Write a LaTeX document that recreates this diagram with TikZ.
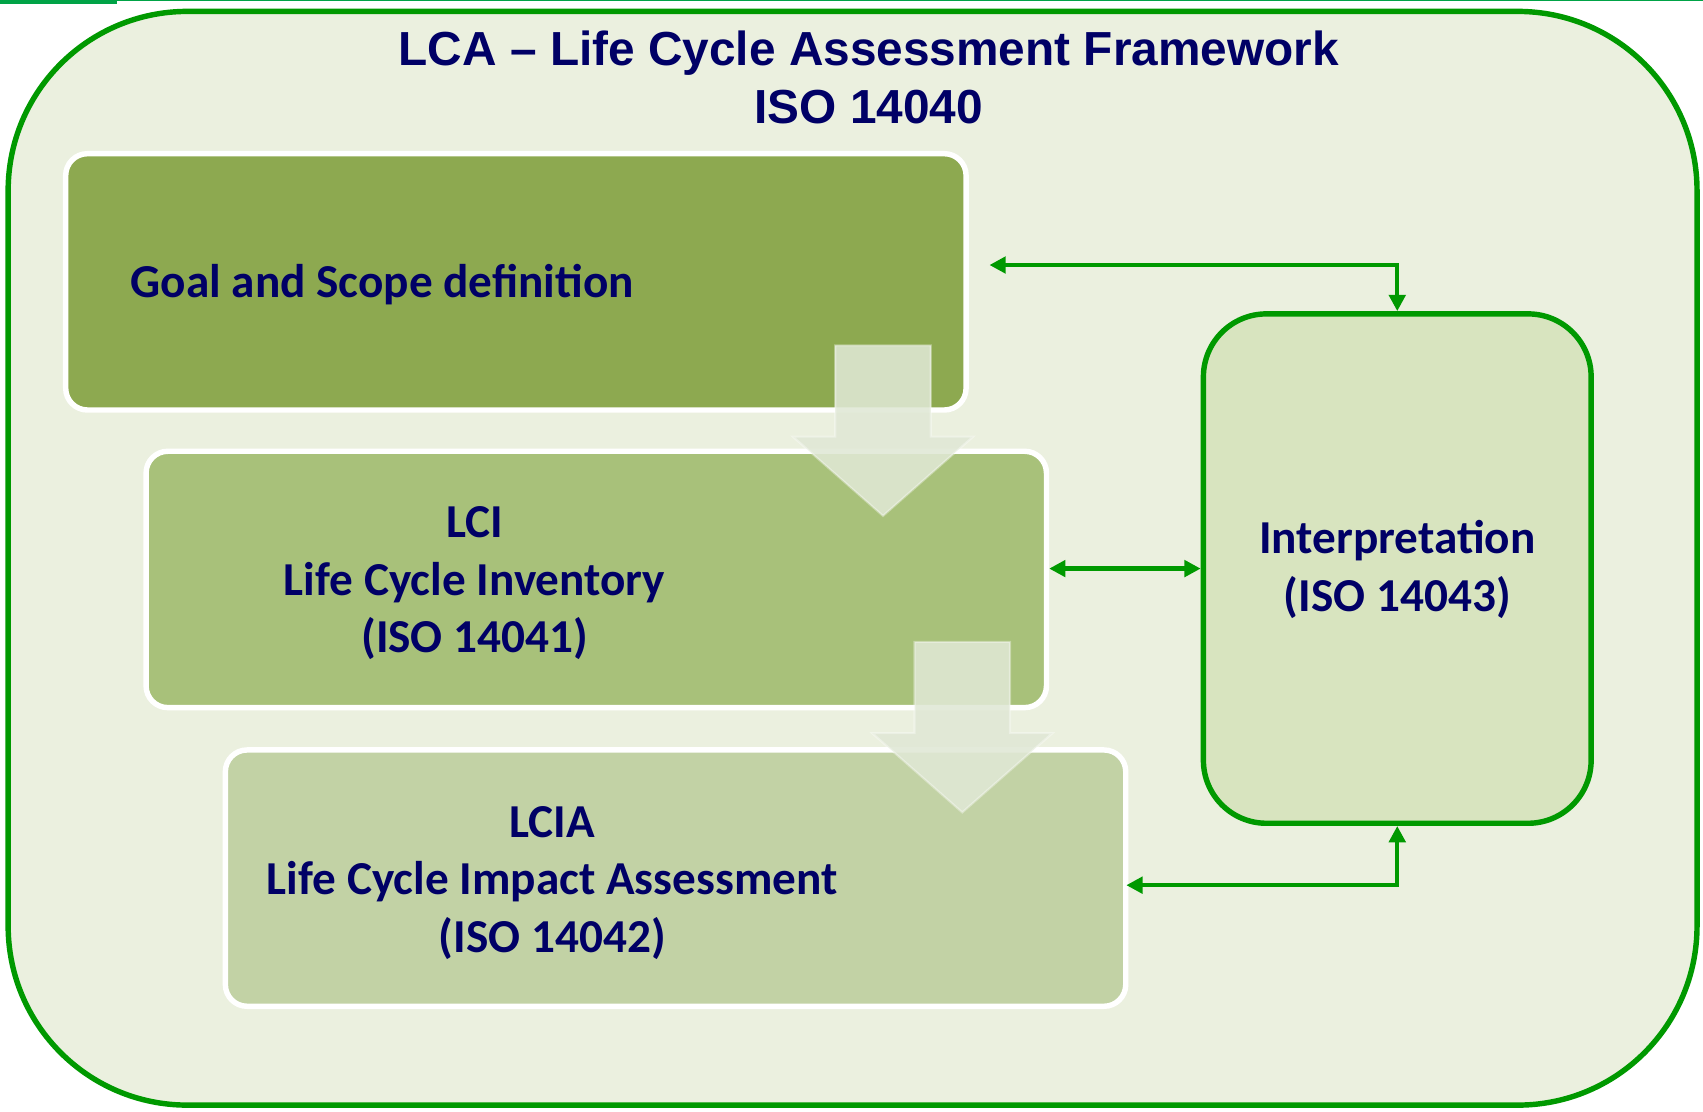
\documentclass[tikz,border=0pt]{standalone}
\usepackage{fontspec}
\usetikzlibrary{arrows.meta,calc}
\newfontfamily\titlefont{Liberation Sans}
\newfontfamily\boxfont{Carlito}
\definecolor{navy}{RGB}{0,0,102}
\definecolor{framegreen}{RGB}{0,153,0}
\definecolor{framefill}{RGB}{235,240,223}
\definecolor{topgreen}{RGB}{0,163,70}
\definecolor{goalfill}{RGB}{141,169,80}
\definecolor{lcifill}{RGB}{168,193,122}
\definecolor{lciafill}{RGB}{194,210,165}
\definecolor{interpfill}{RGB}{216,228,191}
\definecolor{blockfill}{RGB}{224,232,213}
\tikzset{
  stage/.style={rectangle, rounded corners=20pt, draw=white, line width=5pt,
    minimum width=829pt, minimum height=236pt, inner sep=0pt},
  lbl/.style={text=navy, font=\boxfont\bfseries\fontsize{43.5}{53}\selectfont,
    align=center, inner sep=0pt, anchor=base},
  ttl/.style={text=navy, font=\titlefont\bfseries\fontsize{44}{54}\selectfont,
    align=center, inner sep=0pt, anchor=base},
  conn/.style={draw=framegreen, line width=4pt,
    {Triangle[length=15pt,width=15pt]}-{Triangle[length=15pt,width=15pt]}},
  blockarr/.style={fill=blockfill, fill opacity=0.88, draw=white, draw opacity=0.35, line width=2pt},
  downarr/.pic={\path[blockarr] (-44,0) -- (44,0) -- (44,84) -- (83,84) -- (0,157) -- (-83,84) -- (-44,84) -- cycle;}
}
\begin{document}
\begin{tikzpicture}[x=1pt,y=-1pt]
\useasboundingbox (0,0) rectangle (1568,1023);
% top decorative line
\fill[topgreen] (0,0) rectangle (1568,1.3);
\fill[topgreen] (0,0) rectangle (108,3.5);
% outer frame
\draw[framegreen, fill=framefill, line width=5pt, rounded corners=165pt]
  (7.5,10.5) rectangle (1562.5,1017.5);
% title (anchor base = last line)
\node[ttl] (title) at (800,114) {LCA – Life Cycle Assessment Framework\\ISO 14040};
% stages
\node[stage, fill=goalfill] (goal) at (475,259.5) {};
\node[stage, fill=lcifill] (lci) at (549,533.5) {};
\node[stage, fill=lciafill] (lcia) at (622,808.5) {};
\node[rectangle, rounded corners=58pt, draw=framegreen, fill=interpfill, line width=5pt,
  minimum width=357pt, minimum height=469pt, inner sep=0pt] (interp) at (1286.5,523.5) {};
% labels (anchor base = last line)
\node[lbl, anchor=base west, align=left] (goalt) at (120,274) {Goal and Scope definition};
\node[lbl] (lcit) at (437,601) {LCI\\Life Cycle Inventory\\(ISO 14041)};
\node[lbl] (lciat) at (508.5,877) {LCIA\\Life Cycle Impact Assessment\\(ISO 14042)};
\node[lbl] (interpt) at (1286.5,563) {Interpretation\\(ISO 14043)};
% block arrows
\pic at (813,318) {downarr};
\pic at (886,591) {downarr};
% connectors
\coordinate (g1) at (911,244);
\coordinate (c3) at (1037,815);
\draw[conn] (g1) -| (interp.north);
\draw[conn] (lci.east |- interp.west) -- (interp.west);
\draw[conn] (c3) -| (interp.south);
\end{tikzpicture}
\end{document}
